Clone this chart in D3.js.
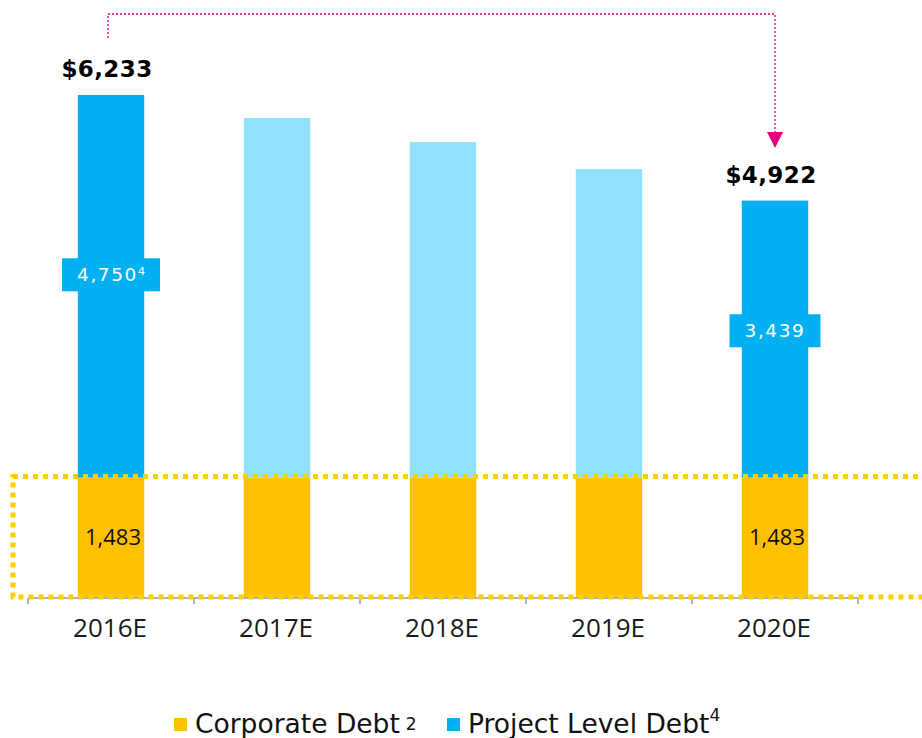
<!DOCTYPE html>
<html><head><meta charset="utf-8">
<script src="https://cdn.jsdelivr.net/npm/d3@7"></script>
<style>body{margin:0;background:#fff;}svg{display:block;}</style>
</head><body>
<svg id="chart" width="922" height="738"></svg>
<script>
const categories = ["2016E","2017E","2018E","2019E","2020E"];
const corporateDebt = [1483,1483,1483,1483,1483];
const projectDebt = [4750,4465,4165,3830,3439];
const highlighted = [true,false,false,false,true];
const totalLabels = ["$6,233",null,null,null,"$4,922"];
const projectLabels = ["4,750","","","","3,439"];
const projectSup = ["4","","","",""];
const corporateLabels = ["1,483",null,null,null,"1,483"];
const legendItems = [{name:"Corporate Debt",sup:"2",color:"#FFC000"},{name:"Project Level Debt",sup:"4",color:"#00B0F0"}];

const C_ORANGE="#FFC000", C_BLUE="#00B0F0", C_LIGHT="#92E1FC", C_PINK="#E6007E", C_YEL="#FFD000";
const svg=d3.select("#chart");
const x=d3.scaleBand().domain(categories).range([28,858]).paddingInner(0.6).paddingOuter(0.3);
const y=d3.scaleLinear().domain([0,6233]).range([597,95]);
const data=categories.map((c,i)=>({c,corp:corporateDebt[i],proj:projectDebt[i],hi:highlighted[i],i}));

// bars
const g=svg.append("g");
g.selectAll("rect.corp").data(data).join("rect").attr("class","corp")
 .attr("x",d=>x(d.c)).attr("width",x.bandwidth())
 .attr("y",d=>y(d.corp)).attr("height",d=>y(0)-y(d.corp)).attr("fill",C_ORANGE);
g.selectAll("rect.proj").data(data).join("rect").attr("class","proj")
 .attr("x",d=>x(d.c)).attr("width",x.bandwidth())
 .attr("y",d=>y(d.corp+d.proj)).attr("height",d=>y(d.corp)-y(d.corp+d.proj))
 .attr("fill",d=>d.hi?C_BLUE:C_LIGHT);

// axis
const ax=svg.append("g");
ax.append("line").attr("x1",x.range()[0]).attr("x2",x.range()[1]).attr("y1",y(0)+1).attr("y2",y(0)+1)
 .attr("stroke","#9a9a9a").attr("stroke-width",1.5);
const edges=categories.map(c=>x(c)-x.step()*x.paddingInner()/2).concat([x.range()[1]]);
edges[0]=x.range()[0];
ax.selectAll("line.tick").data(edges).join("line").attr("class","tick")
 .attr("x1",d=>d).attr("x2",d=>d).attr("y1",y(0)+1).attr("y2",y(0)+7)
 .attr("stroke","#9a9a9a").attr("stroke-width",1.5);
ax.selectAll("text").data(categories).join("text")
 .attr("x",d=>x(d)+x.bandwidth()/2-1).attr("y",637).attr("text-anchor","middle")
 .attr("font-family","Open Sans, sans-serif").attr("font-size",26).attr("fill","#1a1a1a").text(d=>d);

// yellow dotted box
svg.append("rect").attr("x",13).attr("y",y(1483)-1).attr("width",940).attr("height",y(0)-y(1483)+1)
 .attr("fill","none").attr("stroke",C_YEL).attr("stroke-width",5).attr("stroke-dasharray","5,5");

// corporate labels
svg.selectAll("text.corpl").data(data.filter(d=>corporateLabels[d.i])).join("text").attr("class","corpl")
 .attr("x",d=>x(d.c)+x.bandwidth()/2+2).attr("y",d=>(y(0)+y(d.corp))/2+8).attr("text-anchor","middle")
 .attr("font-family","Open Sans, sans-serif").attr("font-size",22).attr("fill","#111")
 .text(d=>corporateLabels[d.i]);

// project labels with boxes
data.filter(d=>projectLabels[d.i]).forEach(d=>{
  const cy=y(d.corp+d.proj*0.53);
  const cx=x(d.c)+x.bandwidth()/2;
  const lg=svg.append("g");
  const rect=lg.append("rect").attr("fill",C_BLUE);
  const t=lg.append("text").attr("x",cx).attr("y",cy+6.5).attr("text-anchor","middle")
   .attr("font-family","DejaVu Sans, sans-serif").attr("font-size",18.5).attr("letter-spacing",1.6).attr("fill","#fff");
  t.append("tspan").text(projectLabels[d.i]);
  if(projectSup[d.i]) t.append("tspan").attr("font-size",11).attr("dy",-6).attr("letter-spacing",0).text(projectSup[d.i]);
  const bb=t.node().getBBox();
  rect.attr("x",bb.x-15).attr("width",bb.width+30).attr("y",cy-16.5).attr("height",33);
});

// total labels
svg.selectAll("text.tot").data(data.filter(d=>totalLabels[d.i])).join("text").attr("class","tot")
 .attr("x",d=>x(d.c)+x.bandwidth()/2-4).attr("y",d=>y(d.corp+d.proj)-18).attr("text-anchor","middle")
 .attr("font-family","DejaVu Sans, sans-serif").attr("font-weight","bold").attr("font-size",23).attr("letter-spacing",0.4)
 .attr("fill","#000").text(d=>totalLabels[d.i]);

// pink connector
const x0=x(categories[0])+x.bandwidth()/2-3, x1=x(categories[4])+x.bandwidth()/2;
svg.append("path").attr("d",`M${x0},38 V14 H${x1} V133`).attr("fill","none")
 .attr("stroke",C_PINK).attr("stroke-width",1.3).attr("stroke-dasharray","2,2");
svg.append("path").attr("d",`M${x1-8},132 L${x1+8},132 L${x1},148 Z`).attr("fill",C_PINK);

// legend
const leg=svg.append("g");
let lx=174;
legendItems.forEach((it,k)=>{
  leg.append("rect").attr("x",lx).attr("y",718).attr("width",13).attr("height",13).attr("fill",it.color);
  const t=leg.append("text").attr("x",lx+21).attr("y",733).attr("font-family","DejaVu Sans, sans-serif")
   .attr("font-size",26.5).attr("fill","#111");
  t.append("tspan").text(it.name);
  if(k===0) t.append("tspan").attr("font-size",17).attr("dx",6).attr("dy",-3).text(it.sup);
  else t.append("tspan").attr("font-size",17).attr("dy",-12).text(it.sup);
  lx = 447;
});
</script>
</body></html>
